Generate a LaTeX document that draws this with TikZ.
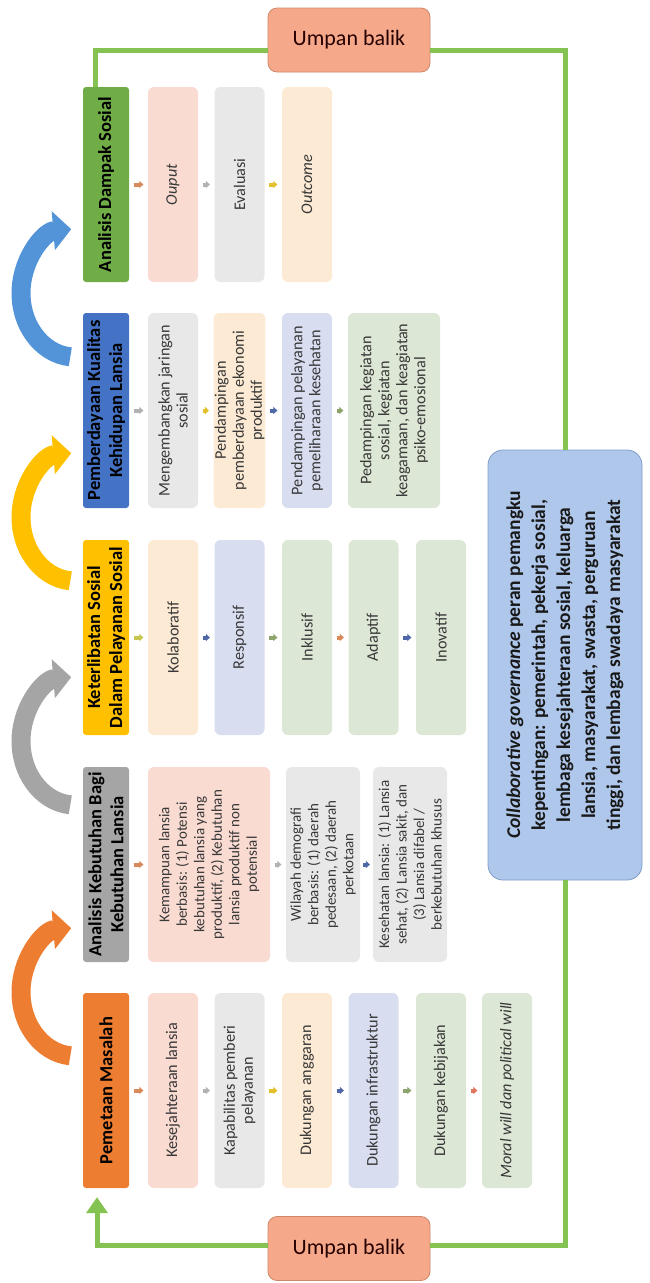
\documentclass[tikz,border=0pt]{standalone}
\usepackage{fontspec}
\setmainfont{Carlito}
\usetikzlibrary{arrows.meta}
\definecolor{cOr}{HTML}{ED7D31}
\definecolor{cGh}{HTML}{A5A5A5}
\definecolor{cYl}{HTML}{FFC000}
\definecolor{cBl}{HTML}{4472C4}
\definecolor{cGr}{HTML}{70AD47}
\definecolor{cPk}{HTML}{F9DBD2}
\definecolor{cGy}{HTML}{E8E8E8}
\definecolor{cPc}{HTML}{FCEAD4}
\definecolor{cLv}{HTML}{D8DDF0}
\definecolor{cGn}{HTML}{DDE7D5}
\definecolor{cLine}{HTML}{84C251}
\definecolor{cUmp}{HTML}{F5A98A}
\definecolor{cUmpB}{HTML}{CF876A}
\definecolor{cCol}{HTML}{AFC7EA}
\definecolor{cColB}{HTML}{7E9DC8}
\definecolor{cArcBl}{HTML}{5393D8}
\definecolor{dOr}{HTML}{D98A5A}
\definecolor{dGy}{HTML}{B2B2B2}
\definecolor{dYl}{HTML}{E2C12C}
\definecolor{dBl}{HTML}{5068A8}
\definecolor{dGn}{HTML}{8DA46C}
\definecolor{dRd}{HTML}{E07560}
\definecolor{dOl}{HTML}{C6C64E}
\newcommand\HeadFnt{\fontsize{18.5}{22}\selectfont\bfseries}
\newcommand\ItemFnt{\fontsize{16.2}{18}\selectfont}
\newcommand\SmallItemFnt{\fontsize{15}{17.5}\selectfont}
\newcommand\CollFnt{\fontsize{19.5}{25}\selectfont\bfseries}
\newcommand\UmpFnt{\fontsize{22}{26}\selectfont}
\tikzset{
  base/.style={rotate=90, align=center, inner sep=1pt},
  head/.style={base, rounded corners=3pt, font=\HeadFnt, text=black,
    minimum width=195pt, minimum height=46pt},
  item/.style={base, rounded corners=6pt, font=\ItemFnt, text=black!78,
    minimum width=195pt, minimum height=50pt},
  smallitem/.style={item, font=\SmallItemFnt},
  tiny/.style={line width=4pt, -{Triangle[length=4pt,width=7.5pt]},
    shorten <=4.5pt, shorten >=4.5pt},
  fb/.style={line width=5pt, draw=cLine},
  umpan/.style={rounded corners=9pt, fill=cUmp, draw=cUmpB, line width=0.8pt,
    font=\UmpFnt, text=black!85!red, minimum width=162pt, minimum height=64pt},
  coll/.style={base, rounded corners=15pt, fill=cCol, draw=cColB, line width=0.8pt,
    font=\CollFnt, text=black!90, minimum width=430pt, minimum height=154pt},
  cyc/.style={line width=19pt, -{Triangle[length=18pt,width=38pt]}}
}
\begin{document}
\begin{tikzpicture}[x=1pt,y=-1pt]
\useasboundingbox (0,0) rectangle (649,1283);

% curved arrows
\draw[cyc, cArcBl] (70.3,356.8) arc[start angle=95, end angle=266, x radius=54, y radius=64];
\draw[cyc, cYl] (70.3,580.8) arc[start angle=95, end angle=266, x radius=54, y radius=64];
\draw[cyc, cGh] (70.3,804.8) arc[start angle=95, end angle=266, x radius=54, y radius=64];
\draw[cyc, cOr] (70.3,1055.8) arc[start angle=95, end angle=266, x radius=54, y radius=64];

% Section D
\node[head, fill=cGr] (hD) at (106,184.5) {Analisis Dampak Sosial};
\node[item, fill=cPk] (D1) at (173,184.5) {\textit{Ouput}};
\node[item, fill=cGy] (D2) at (239.5,184.5) {Evaluasi};
\node[item, fill=cPc] (D3) at (307,184.5) {\textit{Outcome}};

% Section B
\node[head, fill=cBl] (hB) at (106,410.5) {Pemberdayaan Kualitas\\Kehidupan Lansia};
\node[item, fill=cGy] (B1) at (173,410.5) {Mengembangkan jaringan\\sosial};
\node[item, fill=cPc] (B2) at (239.5,410.5) {Pendampingan\\pemberdayaan ekonomi\\produktif};
\node[item, fill=cLv] (B3) at (307,410.5) {Pendampingan pelayanan\\pemeliharaan kesehatan};
\node[item, fill=cGn, minimum height=92pt] (B4) at (394,410.5) {Pedampingan kegiatan\\sosial, kegiatan\\keagamaan, dan keagiatan\\psiko-emosional};

% Section K
\node[head, fill=cYl] (hK) at (106,637.5) {Keterlibatan Sosial\\Dalam Pelayanan Sosial};
\node[item, fill=cPc] (K1) at (173,637.5) {Kolaboratif};
\node[item, fill=cLv] (K2) at (239.5,637.5) {Responsif};
\node[item, fill=cGn] (K3) at (307,637.5) {Inklusif};
\node[item, fill=cGn] (K4) at (373.5,637.5) {Adaptif};
\node[item, fill=cGn] (K5) at (441,637.5) {Inovatif};

% Section A
\node[head, fill=cGh] (hA) at (106,864.5) {Analisis Kebutuhan Bagi\\Kebutuhan Lansia};
\node[smallitem, fill=cPk, minimum height=122pt] (A1) at (209,864.5) {Kemampuan lansia\\berbasis: (1) Potensi\\kebutuhan lansia yang\\produktif, (2) Kebutuhan\\lansia produktif non\\potensial};
\node[smallitem, fill=cGy, minimum height=74pt] (A2) at (323,864.5) {Wilayah demografi\\berbasis: (1) daerah\\pedesaan, (2) daerah\\perkotaan};
\node[smallitem, fill=cGy, minimum height=74pt] (A3) at (410,864.5) {Kesehatan lansia: (1) Lansia\\sehat, (2) Lansia sakit, dan\\(3) Lansia difabel /\\berkebutuhan khusus};

% Section P
\node[head, fill=cOr] (hP) at (106,1090.5) {Pemetaan Masalah};
\node[item, fill=cPk] (P1) at (173,1090.5) {Kesejahteraan lansia};
\node[item, fill=cGy] (P2) at (239.5,1090.5) {Kapabilitas pemberi\\pelayanan};
\node[item, fill=cPc] (P3) at (307,1090.5) {Dukungan anggaran};
\node[item, fill=cLv] (P4) at (373.5,1090.5) {Dukungan infrastruktur};
\node[item, fill=cGn] (P5) at (441,1090.5) {Dukungan kebijakan};
\node[item, fill=cGn] (P6) at (507,1090.5) {\textit{Moral will dan political will}};

% small arrows
\draw[tiny, dOr] (hD.south) -- (D1.north);
\draw[tiny, dGy] (D1.south) -- (D2.north);
\draw[tiny, dYl] (D2.south) -- (D3.north);

\draw[tiny, dGy] (hB.south) -- (B1.north);
\draw[tiny, dYl] (B1.south) -- (B2.north);
\draw[tiny, dBl] (B2.south) -- (B3.north);
\draw[tiny, dGn] (B3.south) -- (B4.north);

\draw[tiny, dOl] (hK.south) -- (K1.north);
\draw[tiny, dBl] (K1.south) -- (K2.north);
\draw[tiny, dGn] (K2.south) -- (K3.north);
\draw[tiny, dOr] (K3.south) -- (K4.north);
\draw[tiny, dBl] (K4.south) -- (K5.north);

\draw[tiny, dOr] (hA.south) -- (A1.north);
\draw[tiny, dGy] (A1.south) -- (A2.north);
\draw[tiny, dBl, shorten <=3pt, shorten >=3pt] (A2.south) -- (A3.north);

\draw[tiny, dOr] (hP.south) -- (P1.north);
\draw[tiny, dGy] (P1.south) -- (P2.north);
\draw[tiny, dYl] (P2.south) -- (P3.north);
\draw[tiny, dBl] (P3.south) -- (P4.north);
\draw[tiny, dGn] (P4.south) -- (P5.north);
\draw[tiny, dRd] (P5.south) -- (P6.north);

% feedback boxes and collaborative box
\node[umpan] (U1) at (349,40) {Umpan balik};
\node[umpan] (U2) at (349,1248.5) {Umpan balik};
\node[coll] (C) at (565,665) {\textit{Collaborative governance} peran pemangku\\kepentingan: pemerintah, pekerja sosial,\\lembaga kesejahteraan sosial, keluarga\\lansia, masyarakat, swasta, perguruan\\tinggi, dan lembaga swadaya masyarakat};

% feedback loop
\draw[fb] ([yshift=-10pt]U1.west) -| ([xshift=-11pt]hD.east);
\draw[fb] ([yshift=-10pt]U1.east) -| (C.east);
\draw[fb] (C.west) |- ([yshift=3pt]U2.east);
\draw[fb, -{Triangle[length=16pt,width=21pt]}, shorten >=9pt] ([yshift=3pt]U2.west) -| ([xshift=-9pt]hP.west);
\end{tikzpicture}
\end{document}
